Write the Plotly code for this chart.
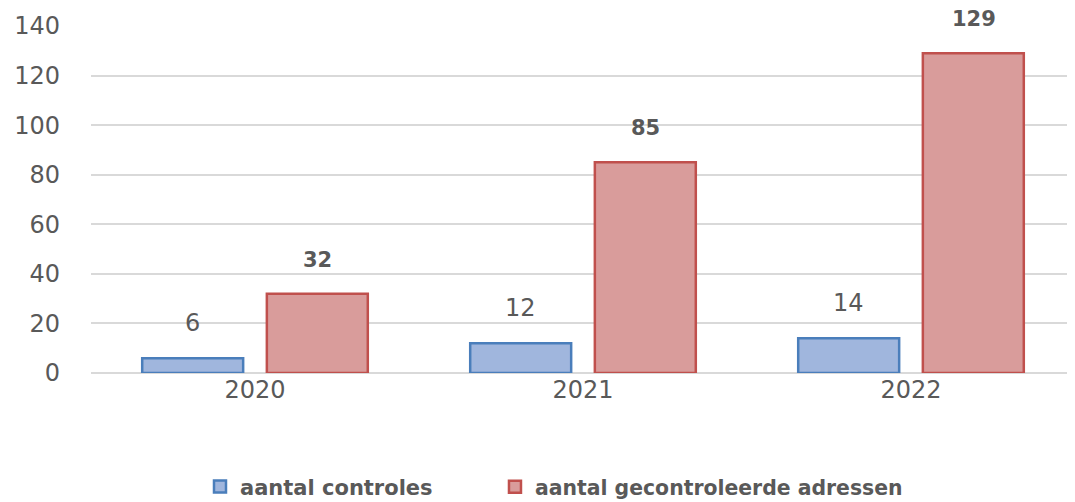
import plotly.graph_objects as go

years = ["2020", "2021", "2022"]
controles = [6, 12, 14]
adressen = [32, 85, 129]
series_names = ["aantal controles", "aantal gecontroleerde adressen"]
y_ticks = [0, 20, 40, 60, 80, 100, 120, 140]

FONT = "DejaVu Sans, Liberation Sans, sans-serif"
GRAY = "#595959"

fig = go.Figure()
fig.add_trace(go.Bar(
    x=years, y=controles, name=series_names[0], legend="legend",
    marker=dict(color="#a0b6dd", line=dict(color="#4a7ebb", width=2.5)),
))
fig.add_trace(go.Bar(
    x=years, y=adressen, name=series_names[1], legend="legend2",
    marker=dict(color="#d99c9b", line=dict(color="#c0504d", width=2.5)),
))

slot_px = 125 / 2
for i, v in enumerate(controles):
    fig.add_annotation(x=i, y=v, text=str(v), showarrow=False, xshift=-slot_px,
                       yshift=35, yanchor="middle",
                       font=dict(family=FONT, size=24, color=GRAY))
for i, v in enumerate(adressen):
    fig.add_annotation(x=i, y=v, text="<b>%d</b>" % v, showarrow=False, xshift=slot_px,
                       yshift=34, yanchor="middle",
                       font=dict(family=FONT, size=21, color=GRAY))

legend_common = dict(orientation="h", yref="container", xref="container", y=0.046,
                     yanchor="middle", xanchor="left", itemwidth=30,
                     bgcolor="rgba(0,0,0,0)")

fig.update_layout(
    width=1075, height=502,
    margin=dict(l=83, r=8, t=18, b=137, autoexpand=False),
    plot_bgcolor="white", paper_bgcolor="white",
    barmode="group", bargap=0.24, bargroupgap=0.19,
    font=dict(family=FONT, color=GRAY),
    showlegend=True,
    legend=dict(x=0.1786, font=dict(family=FONT, size=21, color=GRAY, weight="bold"),
                **legend_common),
    legend2=dict(x=0.453, font=dict(family=FONT, size=20.4, color=GRAY, weight="bold"),
                 **legend_common),
    xaxis=dict(type="category", range=[-0.5, 2.5], showgrid=False, showline=False,
               ticks="", tickfont=dict(family=FONT, size=24, color=GRAY)),
    yaxis=dict(range=[0, 140], tickvals=y_ticks, showgrid=True, gridcolor="#d9d9d9",
               gridwidth=2, zeroline=True, zerolinecolor="#d9d9d9", zerolinewidth=2,
               ticks="", ticklabelstandoff=30,
               tickfont=dict(family=FONT, size=24, color=GRAY)),
)

fig.write_html("out.html")
